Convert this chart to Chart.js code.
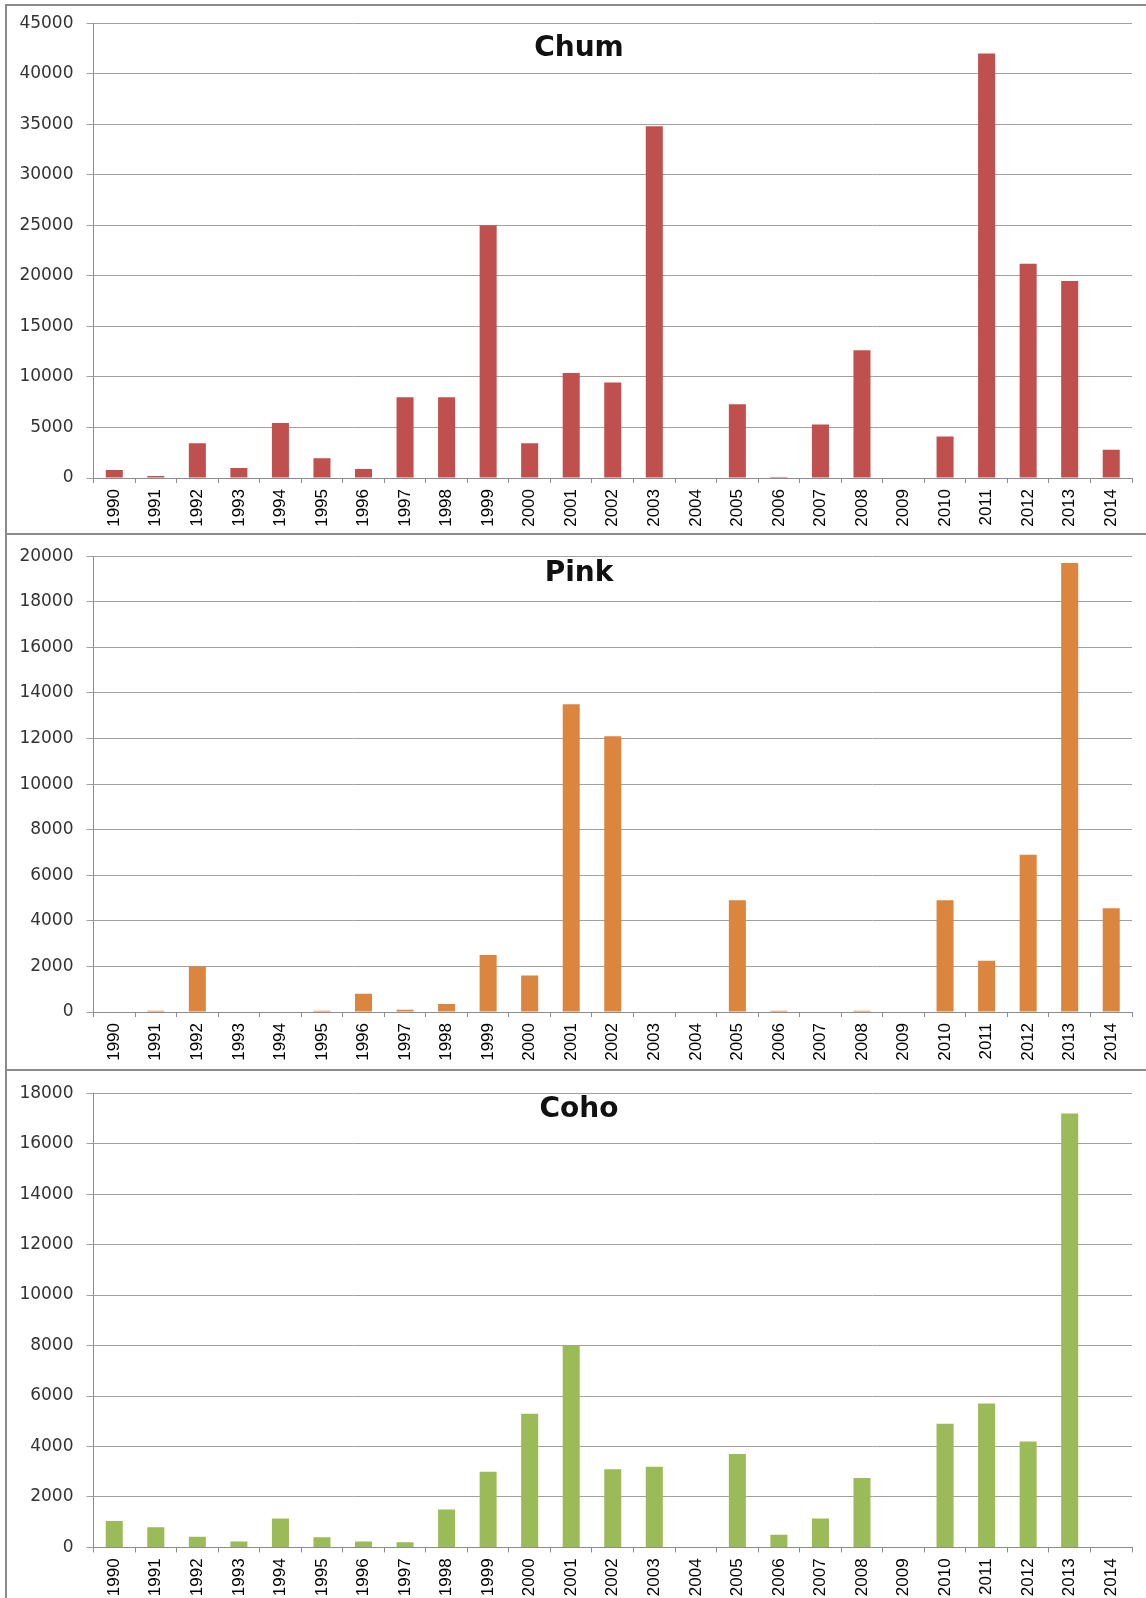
<!DOCTYPE html>
<html>
<head>
<meta charset="utf-8">
<script src="https://cdn.jsdelivr.net/npm/chart.js@4.4.1/dist/chart.umd.min.js"></script>
<style>
    body { margin: 0; background: #fff; width: 1146px; height: 1598px; overflow: hidden; position: relative; }
    .panel { position: absolute; left: 5px; width: 1200px; border: 2px solid #8a8a8a; box-sizing: border-box; }
    canvas { position: absolute; left: 0; }
</style>
</head>
<body>
<div class="panel" style="top:4px; height:531px"></div>
<div class="panel" style="top:533px; height:538px"></div>
<div class="panel" style="top:1069px; height:600px"></div>
<canvas id="chum" width="1146" height="533" style="top:0"></canvas>
<canvas id="pink" width="1146" height="537" style="top:533px"></canvas>
<canvas id="coho" width="1146" height="528" style="top:1070px"></canvas>
<script>
const years = ['1990', '1991', '1992', '1993', '1994', '1995', '1996', '1997', '1998', '1999', '2000', '2001', '2002',
    '2003', '2004', '2005', '2006', '2007', '2008', '2009', '2010', '2011', '2012', '2013', '2014'];

const chum = [800, 200, 3450, 1000, 5450, 1950, 900, 8000, 8000, 25000, 3450, 10400, 9450,
    34800, 0, 7300, 100, 5300, 12650, 0, 4100, 42000, 21200, 19500, 2800];
const pink = [0, 60, 2000, 0, 0, 50, 800, 100, 350, 2500, 1600, 13500, 12100,
    0, 0, 4900, 50, 0, 50, 0, 4900, 2250, 6900, 19700, 4550];
const coho = [1050, 800, 420, 230, 1150, 400, 230, 200, 1500, 3000, 5300, 8000, 3100,
    3200, 0, 3700, 500, 1150, 2750, 0, 4900, 5700, 4200, 17200, 0];

// eje y: maximo y paso de cada grafica
const chumEje = [45000, 5000];
const pinkEje = [20000, 2000];
const cohoEje = [18000, 2000];

// titulo dentro de la grafica
const tituloPlugin = {
    id: 'tituloPanel',
    afterDraw(chart, args, opts) {
        let ctx = chart.ctx;
        ctx.save();
        ctx.font = 'bold 28px "DejaVu Sans"';
        ctx.fillStyle = '#111';
        ctx.textAlign = 'center';
        ctx.textBaseline = 'alphabetic';
        ctx.fillText(opts.text, opts.x, opts.y);
        ctx.restore();
    }
};

function mostrarGrafica(id, datos, color, titulo, eje, arriba, altoX, tituloY) {
    let ctx = document.getElementById(id);
    return new Chart(ctx, {
        type: 'bar',
        data: {
            labels: years,
            datasets: [{
                label: titulo,
                data: datos,
                backgroundColor: color,
                borderWidth: 0,
                barPercentage: 1,
                categoryPercentage: 0.41
            }]
        },
        plugins: [tituloPlugin],
        options: {
            responsive: false,
            animation: false,
            layout: { padding: { top: arriba, right: 14, left: 0, bottom: 0 } },
            plugins: {
                legend: { display: false },
                tooltip: { enabled: false },
                tituloPanel: { text: titulo, x: 579, y: tituloY }
            },
            scales: {
                x: {
                    grid: { offset: true, drawOnChartArea: false, tickLength: 5, color: '#8c8c8c' },
                    border: { color: '#8c8c8c' },
                    ticks: {
                        minRotation: 90, maxRotation: 90, autoSkip: false, padding: 6,
                        color: '#000', font: { family: 'Liberation Sans', size: 17 }
                    },
                    afterFit: function (s) { s.height = altoX; }
                },
                y: {
                    min: 0,
                    max: eje[0],
                    ticks: {
                        stepSize: eje[1], padding: 13, color: '#333',
                        font: { family: 'DejaVu Sans', size: 17 },
                        callback: function (v) { return String(v); }
                    },
                    grid: { color: '#a0a0a0', tickLength: 7 },
                    border: { color: '#8c8c8c' },
                    afterFit: function (s) { s.width = 93.5; }
                }
            }
        }
    });
}

mostrarGrafica('chum', chum, '#c0504d', 'Chum', chumEje, 16.5, 55, 56);
mostrarGrafica('pink', pink, '#dc853f', 'Pink', pinkEje, 15, 58, 48);
mostrarGrafica('coho', coho, '#9bbb59', 'Coho', cohoEje, 12, 50.6, 47);
</script>
</body>
</html>
